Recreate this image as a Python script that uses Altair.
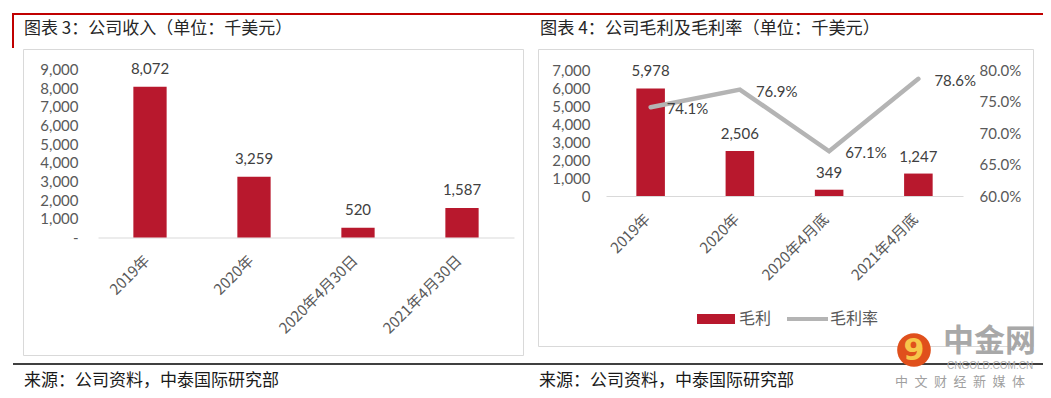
import altair as alt
import pandas as pd

# ---------------- data ----------------
cats_rev = ['2019年', '2020年', '2020年4月30日', '2021年4月30日']
revenue = [8072, 3259, 520, 1587]

cats_gp = ['2019年', '2020年', '2020年4月底', '2021年4月底']
gross_profit = [5978, 2506, 349, 1247]
gross_margin = [0.741, 0.769, 0.671, 0.786]

rev_ticks = [0, 1000, 2000, 3000, 4000, 5000, 6000, 7000, 8000, 9000]
gp_ticks = [0, 1000, 2000, 3000, 4000, 5000, 6000, 7000]
gm_ticks = [0.60, 0.65, 0.70, 0.75, 0.80]

title_left = '图表 3：公司收入（单位：千美元）'
title_right = '图表 4：公司毛利及毛利率（单位：千美元）'
source_text = '来源：公司资料，中泰国际研究部'
legend_labels = ['毛利', '毛利率']
wm_main = '中金网'
wm_url = 'CNGOLD.COM.CN'
wm_sub = '中\u2002文\u2002财\u2002经\u2002新\u2002媒\u2002体'

# ---------------- styles ----------------
RED = '#B8182D'
LINE_GRAY = '#B4B4B4'
AXIS_TXT = '#595959'
LBL_TXT = '#404040'
CJK = 'Noto Sans CJK SC'
NUM = 'Lato'
W, H = 1035, 382

df_rev = pd.DataFrame({'cat': cats_rev, 'value': revenue})
df_gp = pd.DataFrame({'cat': cats_gp, 'gp': gross_profit, 'gm': gross_margin})
one = pd.DataFrame({'d': [0]})

x_rev = alt.Scale(type='band', domain=cats_rev, range=[90, 506], paddingInner=0.68, paddingOuter=0.34)
y_rev = alt.Scale(domain=[0, 9000], range=[229.5, 61.5], nice=False, zero=True)
x_gp = alt.Scale(type='band', domain=cats_gp, range=[598, 955], paddingInner=0.68, paddingOuter=0.34)
y_gp = alt.Scale(domain=[0, 7000], range=[188, 62], nice=False, zero=True)
y_gm = alt.Scale(domain=[0.6, 0.8], range=[188, 62], nice=False, zero=False)


def x_axis(base_y):
    return alt.Axis(orient='bottom', offset=base_y - H, title=None, labelAngle=-45,
                    labelAlign='right', labelBaseline='middle', labelPadding=20,
                    labelOffset=-3, ticks=False, tickSize=0, domain=True,
                    domainColor='#D9D9D9', domainWidth=1, grid=False,
                    labelFont=CJK, labelFontSize=15, labelColor=AXIS_TXT,
                    labelOverlap=False)


# ---------------- left panel ----------------
bars_rev = alt.Chart(df_rev).mark_bar(color=RED).encode(
    x=alt.X('cat:N', scale=x_rev, axis=x_axis(229.5)),
    y=alt.Y('value:Q', scale=y_rev, axis=alt.Axis(
        orient='left', offset=-70, title=None, values=rev_ticks,
        labelExpr="datum.value == 0 ? '-\u00a0\u00a0' : format(datum.value, ',')",
        ticks=False, tickSize=0, domain=False, grid=False, labelPadding=0,
        labelFont=NUM, labelFontSize=15, labelColor=AXIS_TXT)),
)
lab_rev = alt.Chart(df_rev).mark_text(dy=-18, baseline='middle', font=NUM, fontSize=15, color=LBL_TXT).encode(
    x=alt.X('cat:N', scale=x_rev, axis=None, bandPosition=0.5),
    y=alt.Y('value:Q', scale=y_rev, axis=None),
    text=alt.Text('value:Q', format=','),
)

# ---------------- right panel ----------------
bars_gp = alt.Chart(df_gp).mark_bar(color=RED).encode(
    x=alt.X('cat:N', scale=x_gp, axis=x_axis(188)),
    y=alt.Y('gp:Q', scale=y_gp, axis=alt.Axis(
        orient='left', offset=-582, title=None, values=gp_ticks,
        labelExpr="format(datum.value, ',')",
        ticks=False, tickSize=0, domain=False, grid=False, labelPadding=0,
        labelFont=NUM, labelFontSize=15, labelColor=AXIS_TXT)),
)
lab_gp = alt.Chart(df_gp).mark_text(dy=-17, baseline='middle', font=NUM, fontSize=15, color=LBL_TXT).encode(
    x=alt.X('cat:N', scale=x_gp, axis=None, bandPosition=0.5),
    y=alt.Y('gp:Q', scale=y_gp, axis=None),
    text=alt.Text('gp:Q', format=','),
)
line_gm = alt.Chart(df_gp).mark_line(color=LINE_GRAY, strokeWidth=4.5, strokeCap='round').encode(
    x=alt.X('cat:N', scale=x_gp, axis=None, bandPosition=0.5),
    y=alt.Y('gm:Q', scale=y_gm, axis=alt.Axis(
        orient='right', offset=-64, title=None, values=gm_ticks, format='.1%',
        ticks=False, tickSize=0, domain=False, grid=False, labelPadding=0,
        labelFont=NUM, labelFontSize=15, labelColor=AXIS_TXT)),
)
lab_gm = alt.Chart(df_gp).mark_text(align='left', baseline='middle', dx=16, dy=2, font=NUM, fontSize=15, color=LBL_TXT).encode(
    x=alt.X('cat:N', scale=x_gp, axis=None, bandPosition=0.5),
    y=alt.Y('gm:Q', scale=y_gm, axis=None),
    text=alt.Text('gm:Q', format='.1%'),
)


# ---------------- decorations ----------------
def hrule(x1, x2, y, color, w):
    return alt.Chart(one).mark_rule(color=color, strokeWidth=w).encode(
        x=alt.value(x1), x2=alt.value(x2), y=alt.value(y))


def vrule(x, y1, y2, color, w):
    return alt.Chart(one).mark_rule(color=color, strokeWidth=w).encode(
        x=alt.value(x), y=alt.value(y1), y2=alt.value(y2))


def box(x1, x2, y1, y2):
    return alt.Chart(one).mark_rect(fill='white', fillOpacity=0, stroke='#D9D9D9', strokeWidth=1).encode(
        x=alt.value(x1), x2=alt.value(x2), y=alt.value(y1), y2=alt.value(y2))


def label(x, y, txt, size, color, font=CJK, weight='normal', align='left'):
    return alt.Chart(one).mark_text(align=align, baseline='middle', font=font, fontSize=size,
                                    color=color, fontWeight=weight).encode(
        x=alt.value(x), y=alt.value(y), text=alt.value(txt))


decor = [
    box(15.5, 515.5, 41.5, 347.5),
    box(530.5, 1025.5, 41.5, 338.5),
    hrule(5, 1035, 6, '#C00000', 2),
    vrule(5, 5, 40, '#C00000', 2),
    hrule(5, 1035, 356, '#000000', 1.3),
    label(16, 21, title_left, 17, '#262626'),
    label(532, 21, title_right, 17.2, '#262626'),
    label(16, 373, source_text, 17, '#1a1a1a'),
    label(531, 373, source_text, 17, '#1a1a1a'),
]

legend = [
    alt.Chart(one).mark_rect(color=RED).encode(
        x=alt.value(689), x2=alt.value(727), y=alt.value(306), y2=alt.value(316)),
    label(731, 311, legend_labels[0], 16, AXIS_TXT),
    hrule(779, 820, 311, LINE_GRAY, 4),
    label(822, 311, legend_labels[1], 16, AXIS_TXT),
]

watermark = [
    alt.Chart(one).mark_point(filled=True, shape='circle', size=1134, color='#E0501C', opacity=1).encode(
        x=alt.value(906), y=alt.value(342)),
    label(906, 343, '9', 30, '#F7C64A', font='DejaVu Sans', weight='bold', align='center'),
    label(935, 334, wm_main, 31, '#A8A8A8', weight='bold'),
    label(939, 358, wm_url, 10, '#B0B0B0', font='Liberation Sans'),
    label(887, 374, wm_sub, 13, '#A0A0A0'),
]

chart = alt.layer(
    *decor, bars_rev, lab_rev, bars_gp, lab_gp, line_gm, lab_gm, *legend, *watermark
).resolve_scale(x='independent', y='independent').properties(
    width=W, height=H, autosize=alt.AutoSizeParams(type='none'), padding=0,
).configure_view(stroke='transparent')

chart.save('out.html', embed_options={'renderer': 'svg', 'actions': False})
